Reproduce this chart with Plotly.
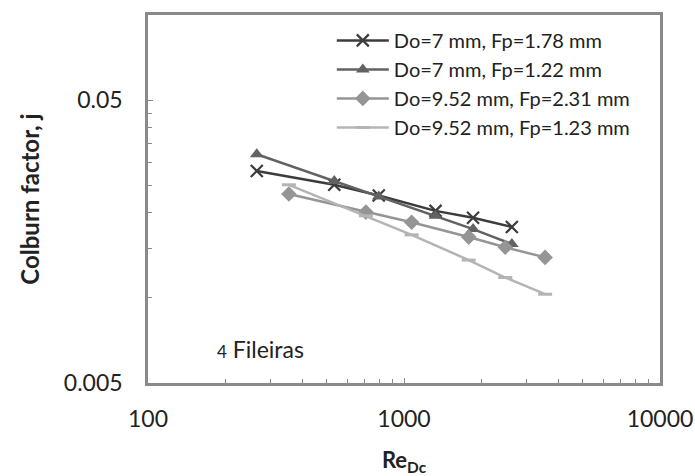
import plotly.graph_objects as go

# Reynolds number (based on collar diameter) and Colburn j factor, 4 tube rows
re_d7_fp178 = [266, 534, 797, 1328, 1861, 2638]
j_d7_fp178 = [0.0281, 0.0251, 0.0230, 0.0203, 0.0192, 0.0178]

re_d7_fp122 = [266, 534, 797, 1328, 1861, 2638]
j_d7_fp122 = [0.0322, 0.0259, 0.0228, 0.0195, 0.0175, 0.0155]

re_d952_fp231 = [355, 710, 1071, 1790, 2487, 3558]
j_d952_fp231 = [0.0233, 0.0201, 0.0185, 0.0164, 0.0151, 0.0139]

re_d952_fp123 = [355, 710, 1071, 1790, 2487, 3558]
j_d952_fp123 = [0.0251, 0.0195, 0.0167, 0.0136, 0.0118, 0.0103]

names = [
    "Do=7 mm, Fp=1.78 mm",
    "Do=7 mm, Fp=1.22 mm",
    "Do=9.52 mm, Fp=2.31 mm",
    "Do=9.52 mm, Fp=1.23 mm",
]

x_ticks = [100, 1000, 10000]
y_ticks = [0.005, 0.05]
y_tick_text = ["0.005", "0.05"]

FONT = "Lato"

series = [
    (re_d7_fp178, j_d7_fp178, "#3c3c3c", dict(symbol="x-thin", size=12, line=dict(width=2.2, color="#3c3c3c"))),
    (re_d7_fp122, j_d7_fp122, "#626262", dict(symbol="triangle-up", size=12, color="#626262")),
    (re_d952_fp231, j_d952_fp231, "#959595", dict(symbol="diamond", size=12, color="#959595")),
    (re_d952_fp123, j_d952_fp123, "#b4b4b4", dict(symbol="line-ew", size=10, line=dict(width=3, color="#b4b4b4"))),
]

fig = go.Figure()
for i, ((xs, ys, col, mk), nm) in enumerate(zip(series, names)):
    fig.add_trace(go.Scatter(
        x=xs, y=ys, name=nm, mode="lines+markers",
        line=dict(color=col, width=2.5),
        marker=mk, legendgroup=f"g{i}",
    ))

axis_common = dict(
    type="log", showgrid=False, zeroline=False, automargin=False,
    showline=True, mirror=True, linecolor="#8a8a8a", linewidth=2.5,
    ticks="inside", ticklen=5, tickcolor="#8a8a8a", tickwidth=1.2,
    tickfont=dict(family=FONT, size=23, color="#222222"),
)

fig.update_xaxes(
    **axis_common,
    range=[2, 4],
    tickmode="array", tickvals=x_ticks, ticktext=[str(v) for v in x_ticks],
    ticklabelstandoff=14,
    minor=dict(ticks="inside", ticklen=4, tickcolor="#8a8a8a", tickwidth=1,
               tickmode="array",
               tickvals=[k * 100 for k in range(2, 10)] + [k * 1000 for k in range(2, 10)]),
    title=dict(text="<b>Re<sub>Dc</sub></b>", font=dict(family=FONT, size=22, color="#222222"), standoff=22),
)

fig.update_yaxes(
    **axis_common,
    range=[-2.30103, -1.0],
    tickmode="array", tickvals=y_ticks, ticktext=y_tick_text,
    ticklabelstandoff=18,
    minor=dict(ticks="inside", ticklen=4, tickcolor="#8a8a8a", tickwidth=1,
               tickmode="array",
               tickvals=[k * 0.005 for k in range(2, 10)]),
    title=dict(text="<b>Colburn factor, j</b>", font=dict(family=FONT, size=24, color="#222222"), standoff=18),
)

fig.add_annotation(
    xref="paper", yref="paper", x=0.131, y=0.092, xanchor="left", yanchor="middle",
    text="<span style='font-size:17px'>4</span> Fileiras", showarrow=False,
    font=dict(family=FONT, size=23, color="#222222"),
)

fig.update_layout(
    width=695, height=476,
    margin=dict(l=148, r=35, t=15, b=93, autoexpand=False),
    paper_bgcolor="white", plot_bgcolor="white",
    showlegend=True,
    legend=dict(
        x=0.359, y=0.984, xanchor="left", yanchor="top",
        bgcolor="rgba(0,0,0,0)", font=dict(family=FONT, size=20, color="#222222"),
        itemwidth=52, tracegroupgap=9, traceorder="normal",
    ),
)

fig.write_html("out.html")
